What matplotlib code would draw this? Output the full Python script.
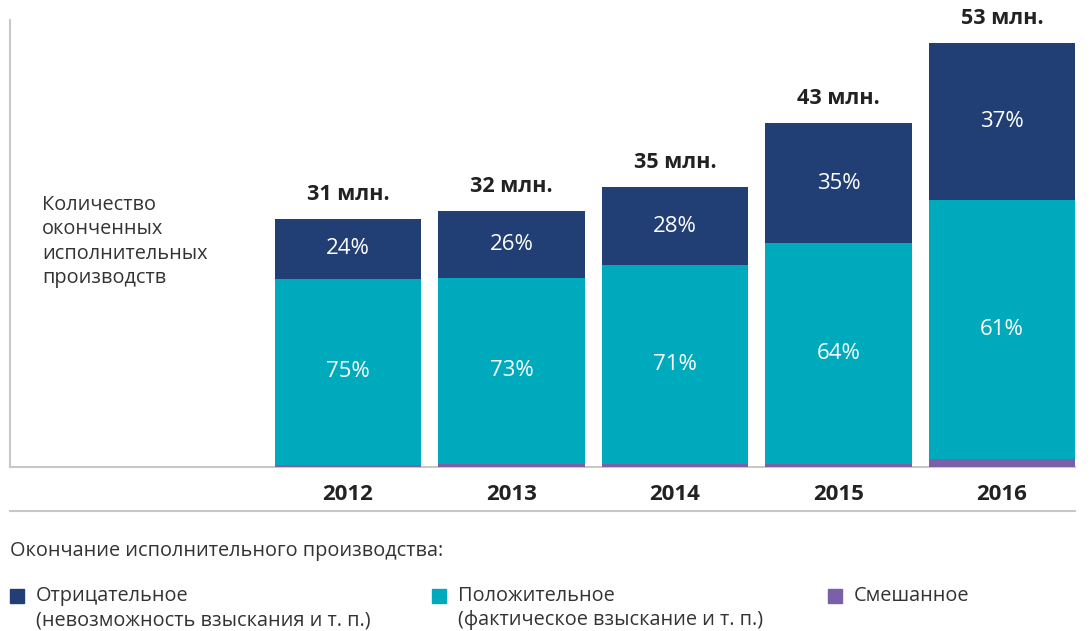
import matplotlib.pyplot as plt
import numpy as np

plt.rcParams['font.family'] = ['Open Sans', 'DejaVu Sans']

years = ['2012', '2013', '2014', '2015', '2016']
totals = [31, 32, 35, 43, 53]  # млн
negative = [24, 26, 28, 35, 37]  # %
positive = [75, 73, 71, 64, 61]  # %
mixed = [1, 1, 1, 1, 2]  # %

navy = '#213f74'
teal = '#00aabd'
purple = '#7b5fa8'
txt = '#333333'

fig = plt.figure(figsize=(10.92, 6.31), dpi=100)
W, H = 1092, 631
ax = fig.add_axes([10 / W, (H - 467) / H, 1065 / W, 447 / H])

x = np.arange(len(years))
tot = np.array(totals, dtype=float)
mix_v = tot * np.array(mixed) / 100
pos_v = tot * np.array(positive) / 100
neg_v = tot * np.array(negative) / 100

bw = 0.893
ax.bar(x, mix_v, bw, color=purple, zorder=3)
ax.bar(x, pos_v, bw, bottom=mix_v, color=teal, zorder=3)
ax.bar(x, neg_v, bw, bottom=mix_v + pos_v, color=navy, zorder=3)

for i in range(len(years)):
    ax.text(x[i], mix_v[i] + pos_v[i] / 2, f'{positive[i]}%', ha='center', va='center',
            color='white', fontsize=16, zorder=4)
    ax.text(x[i], mix_v[i] + pos_v[i] + neg_v[i] / 2, f'{negative[i]}%', ha='center',
            va='center', color='white', fontsize=16, zorder=4)
    ax.annotate(f'{totals[i]} млн.', (x[i], tot[i]), xytext=(0, 18), textcoords='offset points',
                ha='center', va='center', fontsize=15.5, fontweight='bold', color='#222222')

ax.set_xlim((10 - 348) / 163.5, (1075 - 348) / 163.5)
ax.set_ylim(0, 447 / 8)
for s in ['top', 'right']:
    ax.spines[s].set_visible(False)
ax.spines['left'].set_color('#c8c8c8')
ax.spines['bottom'].set_color('#c8c8c8')
ax.spines['left'].set_linewidth(1.5)
ax.spines['bottom'].set_linewidth(1.5)
ax.set_yticks([])
ax.set_xticks(x)
ax.set_xticklabels(years, fontsize=16, fontweight='bold', color='#222222')
ax.tick_params(axis='x', length=0, pad=12)

# lower rule under the year labels
fig.add_artist(plt.Line2D([10 / W, 1075 / W], [(H - 511) / H] * 2, color='#c8c8c8', lw=1.5))

fig.text(42 / W, 1 - 195 / H, 'Количество\nоконченных\nисполнительных\nпроизводств',
         ha='left', va='top', fontsize=14.3, color=txt, linespacing=1.3)

fig.text(10 / W, 1 - 551 / H, 'Окончание исполнительного производства:', ha='left',
         va='center', fontsize=14.3, color=txt)

legend_items = [
    (10, navy, 'Отрицательное\n(невозможность взыскания и т. п.)'),
    (432, teal, 'Положительное\n(фактическое взыскание и т. п.)'),
    (828, purple, 'Смешанное'),
]
for lx, c, label in legend_items:
    fig.add_artist(plt.Rectangle((lx / W, 1 - 603 / H), 14 / W, 14 / H, color=c))
    fig.text((lx + 26) / W, 1 - 586 / H, label, ha='left', va='top', fontsize=14.3,
             color=txt, linespacing=1.3)

fig.savefig('out.png', dpi=100)
